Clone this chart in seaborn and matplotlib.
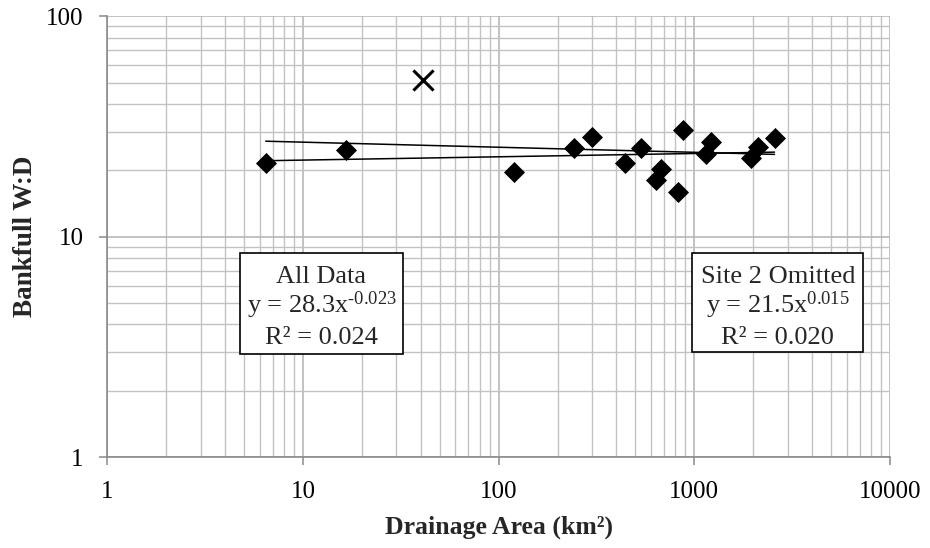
import numpy as np
import pandas as pd
import matplotlib
matplotlib.use("Agg")
import matplotlib.pyplot as plt
import seaborn as sns
from matplotlib.patches import Rectangle
from matplotlib.ticker import LogLocator, FixedLocator, NullFormatter

# ---- data ----
area = [6.45, 16.6, 119.6, 244, 299, 443, 533, 638, 677, 824, 871, 1146, 1210, 1946, 2115, 2570]
wd = [21.5, 24.8, 19.6, 25.2, 28.4, 21.7, 25.2, 18.1, 20.2, 15.9, 30.5, 23.7, 27.0, 22.7, 25.6, 28.1]
site2_area = [41.0]
site2_wd = [51.4]

fit_names = ["All Data", "Site 2 Omitted"]
fit_coef = [28.3, 21.5]
fit_exp = [-0.023, 0.015]
fit_r2 = ["0.024", "0.020"]
fit_exp_text = ["\u20100.023", "0.015"]

x_ticks = [1, 10, 100, 1000, 10000]
y_ticks = [1, 10, 100]
x_label = "Drainage Area (km²)"
y_label = "Bankfull W:D"

# ---- style ----
sns.set_theme(style="white")
plt.rcParams["font.family"] = ["Liberation Serif", "DejaVu Serif"]
plt.rcParams["mathtext.fontset"] = "custom"
plt.rcParams["mathtext.rm"] = "Liberation Serif"
plt.rcParams["mathtext.it"] = "Liberation Serif:italic"
plt.rcParams["mathtext.bf"] = "Liberation Serif:bold"

fig = plt.figure(figsize=(9.3, 5.48), dpi=100)
ax = fig.add_axes([107.3 / 930, 1 - 457 / 548, (890 - 107.3) / 930, (457 - 16.3) / 548])

df = pd.DataFrame({"area": area, "wd": wd})
df2 = pd.DataFrame({"area": site2_area, "wd": site2_wd})

sns.scatterplot(data=df, x="area", y="wd", marker="D", s=115, color="black",
                edgecolor="black", linewidth=0, ax=ax, zorder=3)
sns.scatterplot(data=df2, x="area", y="wd", marker="x", s=210, color="black",
                linewidth=2.2, ax=ax, zorder=3)

all_x = np.array(area + site2_area)
xr = np.array([all_x.min(), all_x.max()])
for a, b in zip(fit_coef, fit_exp):
    tl = pd.DataFrame({"x": xr, "y": a * xr ** b})
    sns.lineplot(data=tl, x="x", y="y", color="black", linewidth=1.1, ax=ax, zorder=4)

ax.set_xscale("log")
ax.set_yscale("log")
ax.set_xlim(1, 10000)
ax.set_ylim(1, 100)

ax.xaxis.set_major_locator(FixedLocator(x_ticks))
ax.yaxis.set_major_locator(FixedLocator(y_ticks))
ax.set_xticklabels([str(t) for t in x_ticks])
ax.set_yticklabels([str(t) for t in y_ticks])
ax.xaxis.set_minor_locator(LogLocator(base=10, subs=np.arange(2, 10), numticks=20))
ax.yaxis.set_minor_locator(LogLocator(base=10, subs=np.arange(2, 10), numticks=20))
ax.xaxis.set_minor_formatter(NullFormatter())
ax.yaxis.set_minor_formatter(NullFormatter())

ax.grid(True, which="major", color="#b8b8b8", linewidth=1.2)
ax.grid(True, which="minor", color="#c2c2c2", linewidth=1.0)
ax.set_axisbelow(True)

for s in ["top", "right"]:
    ax.spines[s].set_visible(False)
for s in ["left", "bottom"]:
    ax.spines[s].set_color("#8a8a8a")
    ax.spines[s].set_linewidth(1.2)

ax.tick_params(axis="both", which="major", direction="out", length=6, width=1.1,
               color="#8a8a8a", labelsize=18, labelcolor="black", pad=11,
               bottom=True, left=True)
ax.tick_params(axis="both", which="minor", length=0)

ax.set_xlabel(x_label, fontsize=18.5, fontweight="bold", labelpad=9)
ax.set_ylabel(y_label, fontsize=19.5, fontweight="bold", labelpad=6)

# ---- equation boxes ----
boxes = [(0.1695, 0.2337, 0.3778, 0.4636), (0.7474, 0.2383, 0.9659, 0.4629)]
for (x0, y0, x1, y1), name, a, et, r2 in zip(boxes, fit_names, fit_coef, fit_exp_text, fit_r2):
    ax.add_patch(Rectangle((x0, y0), x1 - x0, y1 - y0, transform=ax.transAxes,
                           facecolor="white", edgecolor="black", linewidth=1.2, zorder=5))
    xc = (x0 + x1) / 2
    ax.text(xc, 0.3941, name, transform=ax.transAxes, ha="center", va="baseline",
            fontsize=19, zorder=6)
    ax.text(xc, 0.3261, "y = " + str(a) + "x$^{\\mathregular{" + et + "}}$",
            transform=ax.transAxes, ha="center", va="baseline", fontsize=19, zorder=6)
    ax.text(xc, 0.2557, "R² = " + r2, transform=ax.transAxes, ha="center",
            va="baseline", fontsize=19, zorder=6)

fig.savefig("out.png", dpi=100, facecolor="white")
